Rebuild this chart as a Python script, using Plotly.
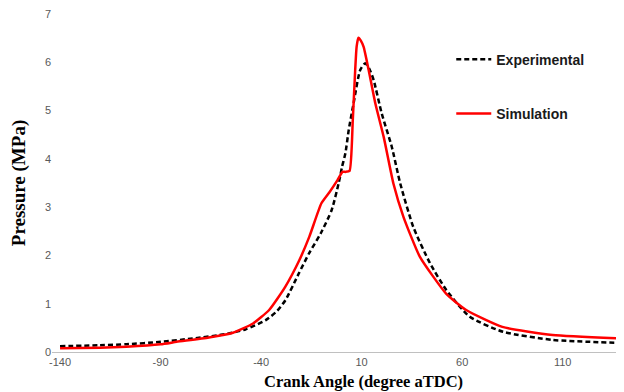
import plotly.graph_objects as go

# Experimental curve (crank angle in degree aTDC, pressure in MPa)
exp_angle = [-140, -120, -107, -90, -74, -57.5, -47.6, -37.7, -32, -27.8, -21.2, -16.2, -10.3,
             -4.9, -1.4, 0.3, 1.9, 3.6, 6, 9.3, 11.8, 14, 16, 20, 25, 29.2, 35.7, 44, 52.2,
             63.8, 80.3, 105, 139]
exp_pressure = [0.12, 0.14, 0.16, 0.21, 0.28, 0.37, 0.47, 0.66, 0.85, 1.08, 1.63, 2.04, 2.46,
                2.94, 3.5, 3.84, 4.11, 4.6, 5.15, 5.84, 5.98, 5.85, 5.63, 4.94, 4.25, 3.49, 2.59,
                1.84, 1.28, 0.73, 0.42, 0.25, 0.19]

# Simulation curve
sim_angle = [-140, -120, -107, -90, -82, -66, -54, -44, -36, -28, -21, -16, -10, -6, -2,
             0.5, 2, 4, 5.6, 6.8, 7.5, 8.4, 9.6, 11, 13.5, 16.8, 21, 25.8, 30.8, 39, 52, 62,
             80, 105, 139]
sim_pressure = [0.08, 0.09, 0.11, 0.16, 0.21, 0.30, 0.40, 0.59, 0.87, 1.35, 1.90, 2.39,
                3.08, 3.31, 3.56, 3.73, 3.73, 3.75, 4.8, 5.84, 6.32, 6.51, 6.45, 6.32, 5.84, 5.15,
                4.45, 3.49, 2.80, 1.97, 1.21, 0.87, 0.52, 0.35, 0.28]

x_ticks = [-140, -90, -40, 10, 60, 110]
y_ticks = [0, 1, 2, 3, 4, 5, 6, 7]

fig = go.Figure()
fig.add_trace(go.Scatter(
    x=exp_angle, y=exp_pressure, mode="lines", name="<b>Experimental</b>",
    legendgroup="a",
    line=dict(color="black", width=2.5, dash="5px,3px", shape="spline", smoothing=0.6),
))
fig.add_trace(go.Scatter(
    x=sim_angle, y=sim_pressure, mode="lines", name="<b>Simulation</b>",
    legendgroup="b",
    line=dict(color="#ff0000", width=2.5, shape="spline", smoothing=0.5),
))

tick_font = dict(family="Liberation Sans, Arial, sans-serif", size=11, color="#595959")
serif = "Liberation Serif, Times New Roman, serif"

# page body has an 8px default margin, so the figure is sized 8px smaller
fig.update_layout(
    width=616, height=384,
    margin=dict(l=44, r=0, t=6, b=40),
    paper_bgcolor="white", plot_bgcolor="white",
    showlegend=True,
    legend=dict(
        x=0.698, y=0.912, xanchor="left", yanchor="top",
        traceorder="grouped", tracegroupgap=33,
        font=dict(family="Liberation Sans, Arial, sans-serif", size=14, color="#1a1a1a"),
        bgcolor="rgba(0,0,0,0)", itemwidth=35,
    ),
    xaxis=dict(
        range=[-144, 140.5], tickmode="array", tickvals=x_ticks,
        ticktext=[str(v) for v in x_ticks], showgrid=False, zeroline=False,
        showline=True, linecolor="#c0c0c0", linewidth=1, ticks="",
        tickfont=tick_font, automargin=False, ticklabeloverflow="allow",
    ),
    yaxis=dict(
        range=[0, 7], tickmode="array", tickvals=y_ticks, showgrid=False, zeroline=False,
        showline=False, ticks="", tickfont=tick_font, automargin=False,
        ticklabeloverflow="allow",
        title=dict(text="<b>Pressure (MPa)</b>", font=dict(family=serif, size=19, color="black"),
                   standoff=20),
    ),
    annotations=[dict(
        text="<b>Crank Angle (degree aTDC)</b>", xref="paper", yref="paper",
        x=0.544, y=0, yshift=-29, xanchor="center", yanchor="middle", showarrow=False,
        font=dict(family=serif, size=16.5, color="black"),
    )],
)

fig.write_html("out.html")
